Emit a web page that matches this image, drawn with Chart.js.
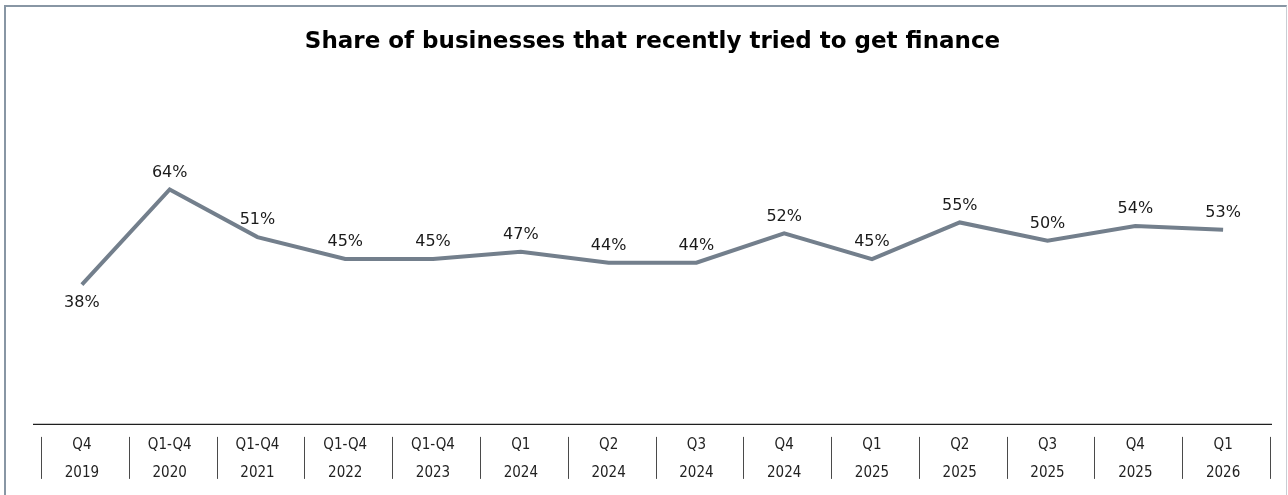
<!DOCTYPE html>
<html>
<head>
<meta charset="utf-8">
<script src="https://cdn.jsdelivr.net/npm/chart.js@4/dist/chart.umd.min.js"></script>
<style>
  html, body { margin: 0; padding: 0; background: #ffffff; }
  #wrap { position: relative; width: 1288px; height: 495px; overflow: hidden; }
  #frame {
    position: absolute; left: 4px; top: 5px; width: 1280px; height: 520px;
    border-left: 2px solid #8896a4; border-top: 2px solid #8896a4;
    border-right: 1px solid #c9ced4; pointer-events: none;
  }
  canvas { position: absolute; left: 0; top: 0; }
</style>
</head>
<body>
<div id="wrap">
  <canvas id="chart" width="1288" height="495"></canvas>
  <div id="frame"></div>
</div>
<script>
// Period labels: first line is the quarter span, second line the year
const periods = ['Q4', 'Q1-Q4', 'Q1-Q4', 'Q1-Q4', 'Q1-Q4', 'Q1', 'Q2', 'Q3', 'Q4', 'Q1', 'Q2', 'Q3', 'Q4', 'Q1'];
const years = ['2019', '2020', '2021', '2022', '2023', '2024', '2024', '2024', '2024', '2025', '2025', '2025', '2025', '2026'];
// Share of businesses that recently tried to get finance (%)
const shares = [38, 64, 51, 45, 45, 47, 44, 44, 52, 45, 55, 50, 54, 53];
// Which side of the line each value label sits on
const labelSides = ['below', 'above', 'above', 'above', 'above', 'above', 'above', 'above', 'above', 'above', 'above', 'above', 'above', 'above'];

const categories = periods.map((p, i) => [p, years[i]]);

// Value labels next to each point
const valueLabels = {
  id: 'valueLabels',
  afterDatasetsDraw(chart) {
    const { ctx } = chart;
    const meta = chart.getDatasetMeta(0);
    ctx.save();
    ctx.font = '16px "DejaVu Sans"';
    ctx.fillStyle = '#1a1a1a';
    ctx.textAlign = 'center';
    ctx.textBaseline = 'middle';
    meta.data.forEach((pt, i) => {
      const dy = labelSides[i] === 'below' ? 18 : -17;
      ctx.fillText(shares[i] + '%', pt.x, pt.y + dy);
    });
    ctx.restore();
  }
};

// Category axis line and the separators between period labels
const categoryAxis = {
  id: 'categoryAxis',
  afterDraw(chart) {
    const { ctx, chartArea } = chart;
    const x = chart.scales.x;
    ctx.save();
    ctx.strokeStyle = '#1f1f1f';
    ctx.lineWidth = 1.3;
    ctx.beginPath();
    ctx.moveTo(chartArea.left - 5, chartArea.bottom + 0.5);
    ctx.lineTo(chartArea.right + 5, chartArea.bottom + 0.5);
    ctx.stroke();
    ctx.strokeStyle = '#4a4a4a';
    ctx.lineWidth = 1;
    for (let i = 0; i <= categories.length; i++) {
      const px = Math.round(x.getPixelForValue(i - 0.5) + 3) + 0.5;
      ctx.beginPath();
      ctx.moveTo(px, chartArea.bottom + 13);
      ctx.lineTo(px, chartArea.bottom + 55);
      ctx.stroke();
    }
    ctx.restore();
  }
};

new Chart(document.getElementById('chart'), {
  type: 'line',
  data: {
    labels: categories,
    datasets: [{
      data: shares,
      borderColor: '#737f8c',
      borderWidth: 4,
      borderJoinStyle: 'miter',
      borderCapStyle: 'butt',
      pointRadius: 0,
      tension: 0,
      fill: false
    }]
  },
  options: {
    responsive: false,
    animation: false,
    layout: { padding: { left: 38, right: 21, top: 18, bottom: 1 } },
    plugins: {
      legend: { display: false },
      tooltip: { enabled: false },
      title: {
        display: true,
        text: 'Share of businesses that recently tried to get finance',
        color: '#000000',
        font: { family: '"DejaVu Sans"', size: 23, weight: 'bold' },
        padding: { top: 10, bottom: 2 }
      }
    },
    scales: {
      x: {
        offset: true,
        grid: { display: false, drawTicks: false },
        border: { display: false },
        ticks: {
          color: '#222222',
          padding: 7,
          maxRotation: 0,
          autoSkip: false,
          font: { family: '"DejaVu Sans Condensed"', size: 15, lineHeight: 1.87 }
        }
      },
      y: {
        display: false,
        min: 0,
        max: 100
      }
    }
  },
  plugins: [valueLabels, categoryAxis]
});
</script>
</body>
</html>
